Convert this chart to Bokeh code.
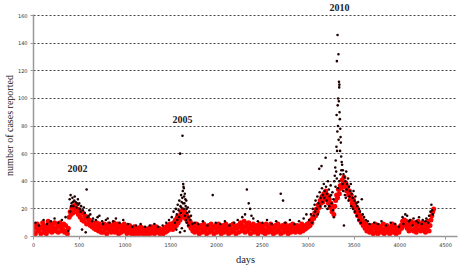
from bokeh.plotting import figure
from bokeh.models import Label, Range1d, FixedTicker, Title
from bokeh.embed import file_html
from bokeh.resources import INLINE

# ---- data ----
x_ticks = [0, 500, 1000, 1500, 2000, 2500, 3000, 3500, 4000, 4500]
y_ticks = [0, 20, 40, 60, 80, 100, 120, 140, 160]
day_step = 10  # red band sampled every 10 days

red_0000 = [3,8,2,6,9,4,5,7,2,6,10,3,8,5,2,7,11,4,6,9,3,7,5,10,4]
red_0250 = [6,9,3,7,10,4,8,5,9,3,8,4,2,6,14,18,16,21,17,22,19,23,18,20,16]
red_0500 = [19,14,18,12,17,11,15,13,9,14,10,12,8,11,7,10,6,9,5,10,7,4,9,6,3]
red_0750 = [7,3,9,5,8,2,6,9,4,7,3,8,5,10,3,7,4,9,2,6,8,3,7,5,9]
red_1000 = [4,7,2,6,3,8,4,2,6,3,7,1,5,3,6,2,5,7,3,4,1,6,3,5,2]
red_1250 = [4,6,2,5,7,3,6,2,5,7,3,4,6,2,5,3,1,4,6,3,7,4,8,5,9]
red_1500 = [6,9,5,10,7,12,8,14,10,15,12,18,14,19,15,18,13,16,11,14,8,11,6,9,4]
red_1750 = [7,3,6,9,4,7,2,6,8,3,5,9,4,7,2,6,8,3,5,9,4,7,2,6,8]
red_2000 = [3,6,9,4,7,2,5,8,3,6,9,4,7,2,6,8,3,5,9,4,7,2,6,8,3]
red_2250 = [7,10,4,8,5,11,3,7,9,4,10,6,2,8,5,9,3,7,4,8,2,6,9,4,7]
red_2500 = [3,8,5,2,9,4,7,3,6,9,4,7,2,6,8,3,5,9,4,7,2,6,8,3,6]
red_2750 = [9,4,7,2,5,8,3,6,9,4,7,3,5,8,4,7,3,6,9,4,7,5,8,6,9]
red_3000 = [7,10,8,12,10,14,13,17,15,20,18,23,21,26,24,29,25,31,27,33,28,30,24,27,21]
red_3250 = [24,18,21,16,22,26,30,28,34,31,37,35,41,38,43,36,39,33,36,30,33,27,30,24,27]
red_3500 = [21,24,18,21,15,18,12,15,10,12,8,10,6,9,4,8,5,3,7,4,8,2,6,9,3]
red_3750 = [6,2,8,4,7,3,5,9,2,6,4,8,3,6,2,7,4,9,3,5,7,2,6,4,3]
red_4000 = [5,8,6,11,9,12,8,11,6,9,4,8,11,5,9,4,10,6,3,8,11,5,9,4,7]
red_4250 = [10,5,8,3,9,6,11,4,8,12,15,18,20]

dark_days_2002 = [20,60,110,150,190,230,270,310,350,380,395,405,415,425,435,445,460,475,490,505,520,530,540,560,570,580,600,620,650,680,720,750,790,830,870,900,940,980,
                  400,410,430,450,470,485,500,515,550,590,610,640,700,760,810]
dark_vals_2002 = [10,8,12,9,11,13,10,12,14,4,27,30,24,28,22,26,25,24,23,20,22,5,19,17,3,34,15,16,13,12,15,11,12,10,11,13,10,12,
                  18,22,25,29,21,27,24,18,21,14,19,11,14,9,13]

dark_days_2005 = [1030,1080,1120,1170,1220,1270,1320,1360,1410,1450,1480,1510,1530,1545,1555,1560,1565,1575,1585,1592,1600,1601,1605,1612,1618,1620,1627,1630,1635,1638,1642,1645,1648,1650,1652,1658,1662,1668,1672,1678,1685,1692,1700,1710,1720,1735,
                  1570,1590,1610,1615,1625,1633,1640,1655,1665,1675,1690]
dark_vals_2005 = [9,7,8,9,7,8,9,7,8,10,12,14,18,10,20,5,16,23,19,26,3,60,22,30,25,6,73,33,38,36,35,29,24,4,31,27,22,26,20,17,21,14,18,12,15,9,
                  12,14,17,21,28,24,20,15,12,10,8]

dark_days_mid = [1760,1800,1850,1900,1957,1990,2040,2090,2140,2190,2230,2280,2310,2330,2350,2365,2380,2400,2450,2500,2550,2600,2650,2700,2725,2750,2800,2850,2900,2950,2980]
dark_vals_mid = [10,9,11,8,30,10,9,11,8,10,12,14,16,34,24,20,15,13,11,10,12,9,11,31,26,10,12,9,11,13,16]

dark_days_2010 = [3010,3030,3050,3060,3070,3080,3090,3100,3110,3120,3125,3135,3145,3150,3160,3170,3180,3190,3195,3205,3215,3225,3235,3245,3255,3265,3275,3285,3290,3295,3300,3305,3308,3310,3313,3315,3318,3320,3322,3325,3327,3330,3332,3334,3336,3338,3340,3342,3345,3348,3350,3353,3356,3360,3365,3370,3378,3385,3390,3395,3405,3415,3425,3435,3445,3455,3465,3475,3485,3495,3505,3515,3525,3535,3545,3555,3565,3585,3595,3610,3630,3650,3670,
                  3040,3075,3105,3130,3155,3175,3185,3200,3210,3230,3250,3270,3280,3298,3312,3324,3338,3352,3362,3375,3382,3400,3410,3420,3440,3450,3470,3490,3510,3530,3550,3575]
dark_vals_2010 = [12,16,20,15,23,26,20,29,24,49,32,28,51,35,30,38,33,57,36,31,40,34,29,37,24,32,27,40,44,50,55,47,65,88,127,62,76,146,95,80,100,132,70,98,112,108,110,90,85,62,78,72,68,58,54,52,48,45,8,43,40,47,38,42,36,33,38,31,28,33,26,29,24,22,25,20,18,27,16,14,12,11,9,
                  10,18,16,22,25,28,22,26,20,22,30,19,14,36,42,35,40,45,48,38,33,30,28,34,26,29,22,20,18,15,12,10]

dark_days_late = [3720,3760,3800,3850,3900,3950,3990,4030,4060,4080,4110,4150,4180,4210,4250,4290,4320,4335,4345,4355,
                  4040,4100,4140,4200,4240,4280,4310,4360]
dark_vals_late = [10,9,11,8,10,9,7,14,16,15,12,13,11,14,12,13,15,18,23,19,
                  9,11,8,10,9,11,10,16]

peak_labels = ["2002", "2005"]
peak_x = [480, 1627]
peak_y = [49, 85]
top_label = "2010"
x_title = "days"
y_title = "number of cases reported"

# ---- assemble ----
red_vals = (red_0000 + red_0250 + red_0500 + red_0750 + red_1000 + red_1250 + red_1500 +
            red_1750 + red_2000 + red_2250 + red_2500 + red_2750 + red_3000 + red_3250 +
            red_3500 + red_3750 + red_4000 + red_4250)
red_days = [i * day_step for i in range(len(red_vals))]
dark_days = dark_days_2002 + dark_days_2005 + dark_days_mid + dark_days_2010 + dark_days_late
dark_vals = dark_vals_2002 + dark_vals_2005 + dark_vals_mid + dark_vals_2010 + dark_vals_late

p = figure(width=460, height=271, output_backend="svg", toolbar_location=None,
           x_range=Range1d(0, 4630), y_range=Range1d(0, 160.8),
           min_border_left=31, min_border_right=3, min_border_top=14, min_border_bottom=35)
p.outline_line_color = None
p.background_fill_color = "white"
p.border_fill_color = "white"

p.xgrid.visible = False
p.ygrid.grid_line_color = "#444444"
p.ygrid.grid_line_dash = "2 2"
p.ygrid.grid_line_width = 1

for ax in (p.xaxis, p.yaxis):
    ax.axis_line_color = "#999999"
    ax.axis_line_width = 1.5
    ax.major_tick_line_color = "#999999"
    ax.major_tick_in = 0
    ax.major_tick_out = 3
    ax.minor_tick_in = 0
    ax.minor_tick_out = 0
    ax.minor_tick_line_color = None
    ax.major_label_text_font = "DejaVu Sans"
    ax.major_label_text_font_size = "5px"
    ax.major_label_text_color = "#333333"
    ax.axis_label_text_font = "Liberation Serif"
    ax.axis_label_text_font_style = "normal"
    ax.axis_label_text_color = "#222222"

p.xaxis.major_label_standoff = 3
p.yaxis.major_label_standoff = 3
p.xaxis.ticker = FixedTicker(ticks=x_ticks)
p.yaxis.ticker = FixedTicker(ticks=y_ticks)
p.xaxis.axis_label = x_title
p.xaxis.axis_label_text_font_size = "10.5px"
p.xaxis.axis_label_standoff = 4
p.yaxis.axis_label = y_title
p.yaxis.axis_label_text_font_size = "10px"
p.yaxis.axis_label_standoff = 0

p.scatter(red_days, red_vals, marker="circle", size=5, fill_color="#ff0000", line_color=None)
p.scatter(dark_days, dark_vals, marker="circle", size=2.6, fill_color="#200000", line_color=None)

for t, xx, yy in zip(peak_labels, peak_x, peak_y):
    p.add_layout(Label(x=xx, y=yy, text=t, text_align="center", text_baseline="middle",
                       text_font="Liberation Serif", text_font_style="bold",
                       text_font_size="10px", text_color="#222222"))

p.add_layout(Title(text=top_label, align="left", offset=296, standoff=3,
                   vertical_align="top",
                   text_font="Liberation Serif", text_font_style="bold",
                   text_font_size="10px", text_color="#222222"), "above")

open("out.html", "w").write(file_html(p, INLINE))
